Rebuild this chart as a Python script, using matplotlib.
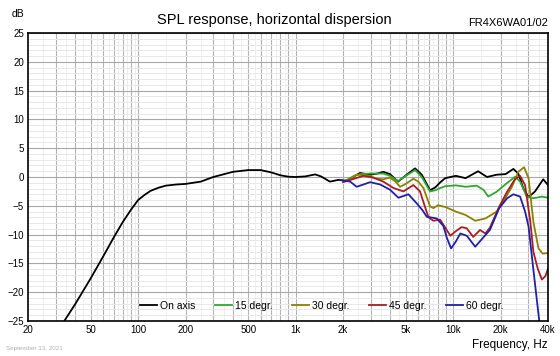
import matplotlib
matplotlib.use("Agg")
import matplotlib.pyplot as plt
from matplotlib.ticker import FixedLocator, NullFormatter

plt.rcParams['font.family'] = ['Liberation Sans', 'DejaVu Sans']

# on axis response
freq_on = [30, 34, 40, 50, 60, 70, 80, 90, 100, 110, 120, 135, 150, 175, 200, 250, 300,
           400, 500, 600, 700, 800, 900, 1000, 1150, 1330, 1450, 1650, 1870, 2110, 2350,
           2560, 2970, 3300, 3600, 3970, 4470, 5070, 5730, 6320, 7130, 7700, 8300, 8900,
           10400, 12000, 14400, 16400, 18900, 21500, 24100, 25900, 27900, 30100,
           33100, 37300, 40000]
spl_on = [-28.5, -25.0, -22.0, -17.6, -13.8, -10.5, -7.8, -5.7, -4.0, -3.1, -2.4, -1.85,
          -1.5, -1.3, -1.2, -0.8, 0.0, 0.9, 1.2, 1.2, 0.8, 0.3, 0.05, 0.0, 0.1, 0.45,
          0.1, -0.8, -0.5, -0.7, 0.1, 0.7, 0.4, 0.6, 0.9, 0.5, -0.8, 0.4, 1.5, 0.4,
          -2.3, -1.8, -0.9, -0.2, 0.2, -0.2, 1.0, 0.0, 0.4, 0.5, 1.4, 0.6, -2.0, -3.5,
          -2.5, -0.4, -1.4]

freq_15 = [2000, 2110, 2350, 2560, 2970, 3600, 3970, 4470, 5070, 5730, 6320, 7130, 7700,
           8300, 8900, 10400, 12000, 14100, 15600, 16700, 18900, 21400, 24700, 26600,
           29300, 32300, 36600, 40000]
spl_15 = [-0.7, -0.5, 0.2, 0.5, 0.6, 0.6, 0.2, -0.7, 0.3, 1.2, 0.0, -2.5, -2.3, -1.9,
          -1.6, -1.45, -1.7, -1.5, -2.25, -3.4, -2.55, -1.3, 0.05, -0.8, -3.4, -3.7,
          -3.4, -3.6]

freq_30 = [2000, 2200, 2440, 2830, 3270, 3600, 3970, 4300, 4600, 5000, 5590, 6000, 6470,
           6900, 7130, 7500, 8000, 8900, 10400, 12000, 13800, 16000, 18900, 21400, 23600,
           25900, 28200, 30100, 32300, 34800, 37000, 40000]
spl_30 = [-0.8, -0.4, 0.4, 0.3, -0.3, -0.4, -0.1, -0.8, -1.7, -1.2, -0.3, -0.8, -1.9,
          -4.0, -5.1, -5.4, -4.9, -5.2, -6.0, -6.6, -7.6, -7.2, -6.0, -3.7, -1.7, 0.9,
          1.7, -0.2, -7.8, -12.4, -13.3, -13.2]

freq_45 = [2000, 2320, 2690, 3110, 3600, 4170, 4830, 5590, 6160, 6500, 6970, 7490, 8260,
           9100, 9600, 10400, 11300, 12200, 13400, 14800, 16000, 17100, 19600, 22000,
           24700, 26600, 28600, 30900, 32300, 34500, 36600, 38500, 40000]
spl_45 = [-0.9, -0.35, 0.2, -0.1, -0.8, -1.9, -2.5, -1.4, -2.5, -4.5, -7.0, -7.6, -7.4,
          -9.2, -10.2, -9.4, -8.7, -8.9, -10.4, -9.2, -9.8, -8.8, -5.15, -2.55, -0.35,
          0.2, -1.4, -7.8, -13.0, -16.0, -17.8, -17.2, -15.9]

freq_60 = [1910, 2000, 2220, 2440, 2970, 3440, 3970, 4490, 5200, 5880, 6400, 6800, 7870,
           8670, 9100, 9700, 10400, 11100, 12200, 13800, 16000, 17100, 19600, 22000,
           24100, 26600, 28600, 30100, 32300, 35200, 37000]
spl_60 = [-0.5, -0.6, -0.8, -1.7, -0.9, -1.3, -2.2, -3.6, -3.0, -4.6, -5.8, -6.9, -7.2,
          -8.5, -10.5, -12.4, -11.2, -9.8, -10.2, -12.1, -10.1, -9.2, -5.4, -3.7, -3.0,
          -3.4, -6.0, -8.6, -16.1, -25.0, -30.0]

xticks = [20, 50, 100, 200, 500, 1000, 2000, 5000, 10000, 20000, 40000]
xlabels = ['20', '50', '100', '200', '500', '1k', '2k', '5k', '10k', '20k', '40k']

fig = plt.figure(figsize=(5.6, 3.56), dpi=100)
ax = fig.add_axes([0.05, 0.0983, 0.9286, 0.809])

# grid
minor_x = []
mid_x = []
for dec in [10, 100, 1000, 10000]:
    for m in range(1, 10):
        minor_x.append(m * dec)
        mid_x.append((m + 0.5) * dec)
for f in mid_x:
    if 20 < f < 40000:
        ax.axvline(f, color='#efefef', lw=0.7, zorder=0)
for f in minor_x:
    if 20 < f < 40000:
        ax.axvline(f, color='#b4b4b4', lw=0.8, zorder=0)
for v in range(-25, 26):
    if v % 5:
        ax.axhline(v, color='#e8e8e8', lw=0.7, zorder=0)
    else:
        ax.axhline(v, color='#a8a8a8', lw=0.8, zorder=0)

ax.plot(freq_on, spl_on, color='black', lw=1.3, label='On axis')
ax.plot(freq_15, spl_15, color='#2ea82e', lw=1.3, label='15 degr.')
ax.plot(freq_30, spl_30, color='#8c8200', lw=1.3, label='30 degr.')
ax.plot(freq_45, spl_45, color='#a81e22', lw=1.3, label='45 degr.')
ax.plot(freq_60, spl_60, color='#2020a8', lw=1.3, label='60 degr.')

ax.set_xscale('log')
ax.set_xlim(20, 40000)
ax.set_ylim(-25, 25)
ax.xaxis.set_major_locator(FixedLocator(xticks))
ax.set_xticklabels(xlabels)
ax.xaxis.set_minor_formatter(NullFormatter())
ax.xaxis.set_minor_locator(FixedLocator([]))
ax.set_yticks(range(-25, 26, 5))
ax.tick_params(length=0, labelsize=7, pad=3)
for s in ax.spines.values():
    s.set_linewidth(1.2)

ax.legend(loc='lower center', bbox_to_anchor=(0.565, 0.0), ncol=5, frameon=False,
          fontsize=7.5, handlelength=1.6, handletextpad=0.3, columnspacing=1.9,
          borderaxespad=0.6)

fig.text(0.49, 0.945, 'SPL response, horizontal dispersion', ha='center', va='center',
         fontsize=10.5)
fig.text(0.02, 0.96, 'dB', ha='left', va='center', fontsize=7.5)
fig.text(0.978, 0.935, 'FR4X6WA01/02', ha='right', va='center', fontsize=8)
fig.text(0.978, 0.03, 'Frequency, Hz', ha='right', va='center', fontsize=8.5)
fig.text(0.01, 0.022, 'September 13, 2021', ha='left', va='center', fontsize=4.5,
         color='#b0b0b0')

fig.savefig('out.png', dpi=100)
